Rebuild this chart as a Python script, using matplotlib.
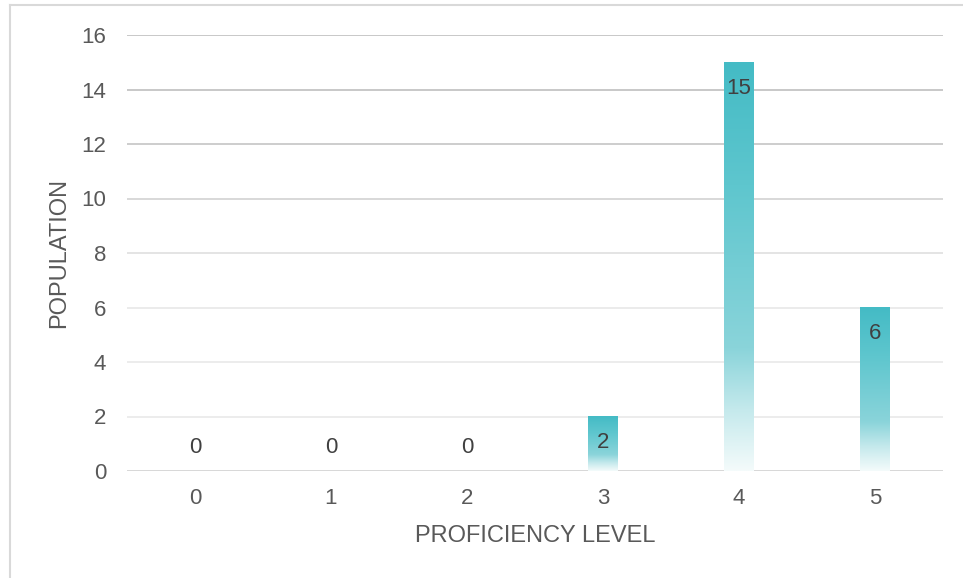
import numpy as np
import matplotlib
matplotlib.use("Agg")
import matplotlib.pyplot as plt
from matplotlib.colors import LinearSegmentedColormap
from matplotlib.lines import Line2D


# chart data
levels = [0, 1, 2, 3, 4, 5]
population = [0, 0, 0, 2, 15, 6]
y_ticks = [0, 2, 4, 6, 8, 10, 12, 14, 16]

plt.rcParams['font.family'] = ['Liberation Sans', 'DejaVu Sans']

text_color = "#595959"
bar_width = 0.22

# gradient from teal at the top of each bar down to almost white
fade = LinearSegmentedColormap.from_list(
    "fade",
    [(0.0, "#f4fbfb"), (0.15, "#c4e9ec"), (0.3, "#8ad4da"),
     (0.7, "#5ec6ce"), (1.0, "#44bbc5")])

fig = plt.figure(figsize=(9.63, 5.78), dpi=100)
ax = fig.add_axes([127 / 963, 1 - 471 / 578, 816 / 963, 436 / 578])

ax.set_xlim(-0.5, 5.5)
ax.set_ylim(0, 16)

# gridlines, darker near the top like the original
grid_colors = ["#d4d4d4", "#ebebeb", "#ebebeb", "#e9e9e9", "#e2e2e2",
               "#d6d6d6", "#c9c9c9", "#c4c4c4", "#c4c4c4"]
for yv, gc in zip(y_ticks, grid_colors):
    ax.axhline(yv, color=gc, lw=1.3, zorder=1)

ramp = np.linspace(0, 1, 256).reshape(-1, 1)
for x, v in zip(levels, population):
    if v > 0:
        ax.imshow(ramp, cmap=fade, origin="lower", aspect="auto",
                  extent=[x - bar_width / 2, x + bar_width / 2, 0, v],
                  zorder=2, interpolation="bilinear")
        ax.annotate(str(v), (x, v), xytext=(0, -19), textcoords="offset points",
                    ha="center", va="center", fontsize=16, color="#404040", zorder=3)
    else:
        ax.annotate(str(v), (x, v), xytext=(0, 17), textcoords="offset points",
                    ha="center", va="center", fontsize=16, color="#404040", zorder=3)

ax.set_xlim(-0.5, 5.5)
ax.set_ylim(0, 16)

ax.set_xticks(levels)
ax.set_xticklabels([str(l) for l in levels])
ax.set_yticks(y_ticks)
ax.tick_params(axis="both", length=0, labelsize=16, colors=text_color)
ax.tick_params(axis="y", pad=15)
ax.tick_params(axis="x", pad=12)

for s in ax.spines.values():
    s.set_visible(False)

ax.set_xlabel("PROFICIENCY LEVEL", fontsize=17, color=text_color, labelpad=12)
ax.set_ylabel("POPULATION", fontsize=17, color=text_color, labelpad=8)

# outer chart border (top and left visible)
fig.add_artist(Line2D([10 / 963, 1.0], [1 - 5 / 578, 1 - 5 / 578],
                      color="#d9d9d9", lw=1.5, transform=fig.transFigure))
fig.add_artist(Line2D([10 / 963, 10 / 963], [0.0, 1 - 5 / 578],
                      color="#d9d9d9", lw=1.5, transform=fig.transFigure))

fig.savefig("out.png", dpi=100)
